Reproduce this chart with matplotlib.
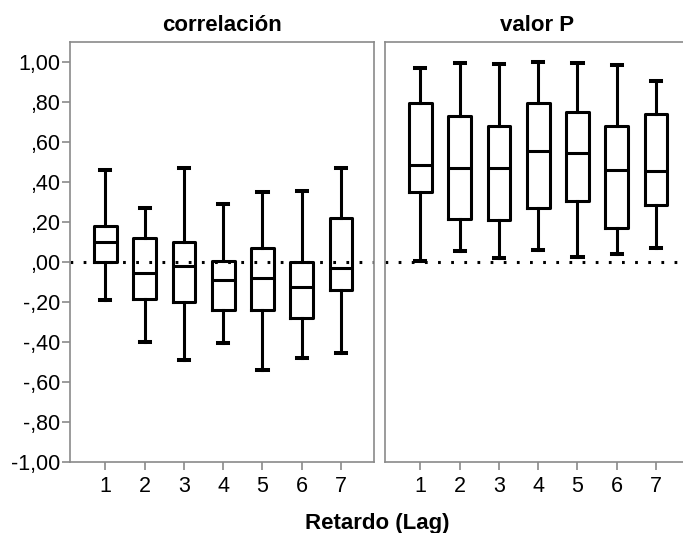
import matplotlib
matplotlib.use("Agg")
import matplotlib.pyplot as plt

# ─── Data ──────────────────────────────────────────────────────────────────────

LAGS = [1, 2, 3, 4, 5, 6, 7]

# correlación panel
CORR_WHISLO = [-0.19, -0.40, -0.49, -0.405, -0.54, -0.48, -0.455]
CORR_Q1     = [0.00, -0.185, -0.20, -0.24, -0.24, -0.28, -0.14]
CORR_MED    = [0.10, -0.055, -0.02, -0.09, -0.08, -0.125, -0.03]
CORR_Q3     = [0.18, 0.12, 0.10, 0.005, 0.07, 0.00, 0.22]
CORR_WHISHI = [0.46, 0.27, 0.47, 0.29, 0.35, 0.355, 0.47]

# valor P panel
PVAL_WHISLO = [0.005, 0.057, 0.02, 0.06, 0.025, 0.04, 0.07]
PVAL_Q1     = [0.35, 0.215, 0.21, 0.27, 0.305, 0.17, 0.285]
PVAL_MED    = [0.487, 0.47, 0.47, 0.553, 0.543, 0.46, 0.455]
PVAL_Q3     = [0.795, 0.73, 0.68, 0.795, 0.75, 0.68, 0.74]
PVAL_WHISHI = [0.97, 0.995, 0.99, 1.00, 0.995, 0.985, 0.905]

YTICKS       = [-1.0, -0.8, -0.6, -0.4, -0.2, 0.0, 0.2, 0.4, 0.6, 0.8, 1.0]
YTICK_LABELS = ["-1,00", "-,80", "-,60", "-,40", "-,20", ",00",
                ",20", ",40", ",60", ",80", "1,00"]

PANEL_TITLES = ["correlación", "valor P"]
X_LABEL = "Retardo (Lag)"

FRAME_GRAY = "#8a8a8a"
FONT = "Liberation Sans"


def make_stats(lo, q1, med, q3, hi):
    return [
        {"whislo": a, "q1": b, "med": c, "q3": d, "whishi": e, "fliers": []}
        for a, b, c, d, e in zip(lo, q1, med, q3, hi)
    ]


plt.rcParams["font.family"] = [FONT, "DejaVu Sans"]

fig = plt.figure(figsize=(6.83, 5.33), dpi=100, facecolor="white")
ax_l = fig.add_axes([0.1025, 0.1332, 0.4451, 0.788])
ax_r = fig.add_axes([0.5637, 0.1332, 0.4451, 0.788])

panels = [
    (ax_l, make_stats(CORR_WHISLO, CORR_Q1, CORR_MED, CORR_Q3, CORR_WHISHI)),
    (ax_r, make_stats(PVAL_WHISLO, PVAL_Q1, PVAL_MED, PVAL_Q3, PVAL_WHISHI)),
]

line_kw = dict(color="black", linewidth=2.2)

for (ax, stats), title in zip(panels, PANEL_TITLES):
    ax.bxp(
        stats, positions=LAGS, widths=0.58, showfliers=False,
        boxprops=line_kw, medianprops=line_kw,
        whiskerprops=line_kw, capprops=dict(color="black", linewidth=2.9),
        capwidths=0.26,
    )
    # dotted reference line at zero
    ax.axhline(0, color="black", linewidth=2.2, linestyle=(0, (0.9, 3.4)),
               zorder=0.5)

    ax.set_xlim(0.1, 7.84)
    ax.set_ylim(-1.0, 1.1)
    ax.set_xticks(LAGS)
    ax.set_xticklabels([str(v) for v in LAGS])
    ax.set_title(title, fontsize=16, fontweight="bold", pad=8)

    for sp in ax.spines.values():
        sp.set_color(FRAME_GRAY)
        sp.set_linewidth(1.2)
    ax.tick_params(axis="x", colors=FRAME_GRAY, length=6, width=1.2,
                   labelcolor="black", labelsize=15.5, pad=4)

# left panel keeps the y axis
ax_l.set_yticks(YTICKS)
ax_l.set_yticklabels(YTICK_LABELS)
ax_l.tick_params(axis="y", colors=FRAME_GRAY, length=6, width=1.2,
                 labelcolor="black", labelsize=15.5, pad=1)

# right panel: no y ticks
ax_r.set_yticks([])

fig.text(0.553, 0.0075, X_LABEL, ha="center", va="baseline",
         fontsize=16, fontweight="bold")

fig.savefig("out.png", dpi=100)
